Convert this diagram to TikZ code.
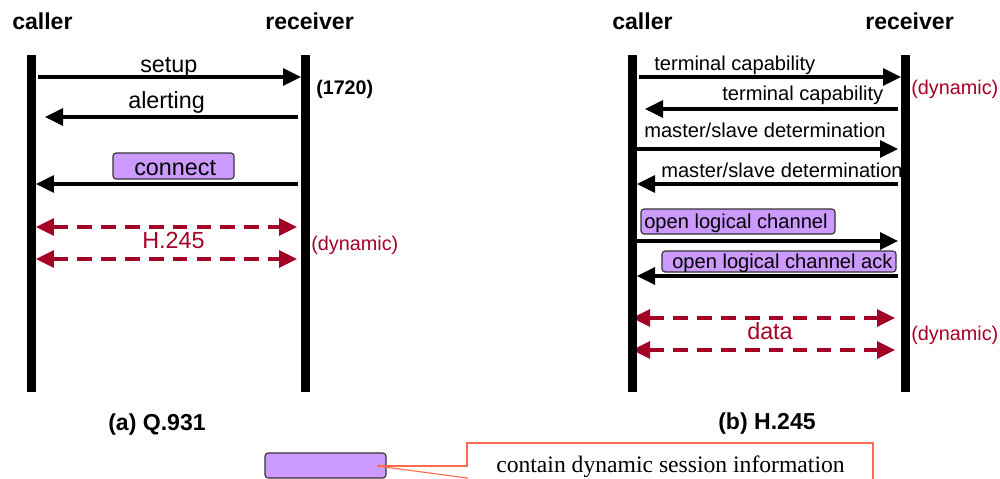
\documentclass[tikz,border=0pt]{standalone}
\usepackage{fontspec}
\setmainfont{Liberation Sans}
\newfontfamily\timesfont{Liberation Serif}
\usetikzlibrary{arrows.meta}
\definecolor{dynred}{HTML}{A50026}
\definecolor{msgpurple}{HTML}{CC99FF}
\definecolor{boxedge}{HTML}{333333}
\definecolor{calloutred}{HTML}{FF6A4D}
\begin{document}
\begin{tikzpicture}[x=0.025cm,y=-0.025cm,
  lifeline/.style={line width=6.4pt},
  msg/.style={line width=2.4pt,-{Triangle[length=12.8pt,width=12pt]}},
  dynmsg/.style={line width=2.4pt,dynred,dash pattern=on 10.5pt off 6.5pt,
     {Triangle[length=12.8pt,width=12pt]}-{Triangle[length=12.8pt,width=12pt]}},
  head/.style={font=\fontsize{16.4}{19}\selectfont\bfseries,inner sep=0pt,anchor=base west},
  biglabel/.style={font=\fontsize{16.6}{19}\selectfont,inner sep=0pt,anchor=base west},
  smalllabel/.style={font=\fontsize{14.3}{17}\selectfont,inner sep=0pt,anchor=base west},
  dynlabel/.style={font=\fontsize{14.1}{17}\selectfont,text=dynred,inner sep=0pt,anchor=base west},
  infobox/.style={draw=boxedge,fill=msgpurple,line width=0.8pt,rounded corners=2.2pt},
  callout/.style={draw=calloutred,line width=0.8pt}
]
\useasboundingbox (0,0) rectangle (1000,479);
\clip (0,0) rectangle (1000,479);

% ---------------- (a) Q.931 ----------------
\node[head] (callerA) at (12,30) {caller};
\node[head] (receiverA) at (265,30) {receiver};

\node[biglabel] (setupT) at (140,73) {setup};
\node[font=\fontsize{14}{17}\selectfont\bfseries,inner sep=0pt,anchor=base west] (port) at (316,95) {(1720)};
\node[biglabel] (alertT) at (128,108) {alerting};
\draw[infobox] (113,153) rectangle (234,179);
\node[biglabel] (connT) at (134,175) {connect};
\node[biglabel,text=dynred] (h245T) at (142,248) {H.245};
\node[dynlabel] (dynA) at (311,250) {(dynamic)};

\coordinate (aL1) at (38,77);   \coordinate (aR1) at (301,77);
\coordinate (aR2) at (298,117); \coordinate (aL2) at (45,117);
\coordinate (aR3) at (298,184); \coordinate (aL3) at (36,184);
\coordinate (aL4) at (36,227);  \coordinate (aR4) at (297,227);
\coordinate (aL5) at (36,259);  \coordinate (aR5) at (297,259);
\draw[msg] (aL1) -- (aR1);
\draw[msg] (aR2) -- (aL2);
\draw[msg] (aR3) -- (aL3);
\draw[dynmsg] (aL4) -- (aR4);
\draw[dynmsg] (aL5) -- (aR5);

\coordinate (lA1) at (31.5,55);  \coordinate (lA2) at (31.5,392);
\coordinate (lB1) at (305.5,55); \coordinate (lB2) at (305.5,392);
\draw[lifeline] (lA1) -- (lA2);
\draw[lifeline] (lB1) -- (lB2);

\node[head] (capA) at (108,430) {(a) Q.931};

% ---------------- (b) H.245 ----------------
\node[head] (callerB) at (612,30) {caller};
\node[head] (receiverB) at (865,30) {receiver};

\node[smalllabel] (tc1) at (654,71) {terminal capability};
\node[smalllabel] (tc2) at (722,101) {terminal capability};
\node[dynlabel] (dynB1) at (911,95) {(dynamic)};
\node[smalllabel] (ms1) at (644,137) {master/slave determination};
\node[smalllabel] (ms2) at (661,177) {master/slave determination};
\draw[infobox] (641,209) rectangle (835,234);
\node[smalllabel] (olc) at (644,228) {open logical channel};
\draw[infobox] (662,251) rectangle (896,272);
\node[smalllabel] (olca) at (672,268) {open logical channel ack};
\node[biglabel,text=dynred] (dataT) at (747,339) {data};
\node[dynlabel] (dynB2) at (911,340) {(dynamic)};

\coordinate (bL1) at (639,77);  \coordinate (bR1) at (901,77);
\coordinate (bR2) at (898,109); \coordinate (bL2) at (645,109);
\coordinate (bL3) at (637,149); \coordinate (bR3) at (898,149);
\coordinate (bR4) at (898,184); \coordinate (bL4) at (637,184);
\coordinate (bL5) at (637,241); \coordinate (bR5) at (898,241);
\coordinate (bR6) at (898,276); \coordinate (bL6) at (637,276);
\coordinate (bL7) at (632,318); \coordinate (bR7) at (895,318);
\coordinate (bL8) at (632,350); \coordinate (bR8) at (895,350);
\draw[msg] (bL1) -- (bR1);
\draw[msg] (bR2) -- (bL2);
\draw[msg] (bL3) -- (bR3);
\draw[msg] (bR4) -- (bL4);
\draw[msg] (bL5) -- (bR5);
\draw[msg] (bR6) -- (bL6);
\draw[dynmsg] (bL7) -- (bR7);
\draw[dynmsg] (bL8) -- (bR8);

\coordinate (lC1) at (632.5,55); \coordinate (lC2) at (632.5,392);
\coordinate (lD1) at (905.5,55); \coordinate (lD2) at (905.5,392);
\draw[lifeline] (lC1) -- (lC2);
\draw[lifeline] (lD1) -- (lD2);

\node[head] (capB) at (718,429) {(b) H.245};

% ---------------- legend ----------------
\draw[infobox] (265,453) rectangle (386,478);
\node[font=\timesfont\fontsize{16.8}{20}\selectfont,inner sep=0pt,anchor=base west] (legendT) at (496,472) {contain dynamic session information};
\coordinate (tip) at (377,466);
\draw[callout] (tip) -- (467,466) -- (467,443) -- (873,443) -- (873,490);
\draw[callout] (tip) -- (467,478) -- (467,490);
\end{tikzpicture}
\end{document}
